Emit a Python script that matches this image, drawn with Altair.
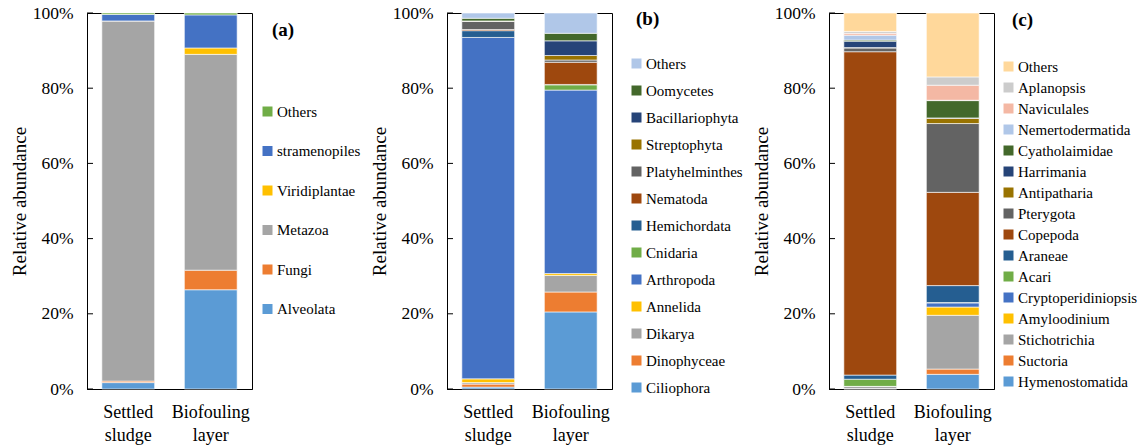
import altair as alt
import pandas as pd

groups = ["Settled sludge", "Biofouling layer"]
y_ticks = [0, 20, 40, 60, 80, 100]

# Panel (a) – bottom to top
taxa_a = ["Alveolata", "Fungi", "Metazoa", "Viridiplantae", "stramenopiles", "Others"]
settled_a = [1.7, 0.4, 95.8, 0.0, 1.7, 0.4]
biofoul_a = [26.4, 5.2, 57.4, 1.7, 8.8, 0.5]
colors_a = ["#5B9BD5", "#ED7D31", "#A5A5A5", "#FFC000", "#4472C4", "#70AD47"]

# Panel (b)
taxa_b = ["Ciliophora", "Dinophyceae", "Dikarya", "Annelida", "Arthropoda", "Cnidaria",
          "Hemichordata", "Nematoda", "Platyhelminthes", "Streptophyta",
          "Bacillariophyta", "Oomycetes", "Others"]
settled_b = [0.5, 0.8, 0.4, 1.0, 90.8, 0.0, 1.8, 0.3, 2.2, 0.1, 0.0, 0.7, 1.4]
biofoul_b = [20.5, 5.3, 4.4, 0.5, 48.8, 1.4, 0.1, 5.9, 0.6, 1.2, 3.9, 2.0, 5.4]
colors_b = ["#5B9BD5", "#ED7D31", "#A5A5A5", "#FFC000", "#4472C4", "#70AD47",
            "#255E91", "#9E480E", "#636363", "#997300", "#264478", "#43682B", "#B0C7E8"]

# Panel (c)
taxa_c = ["Hymenostomatida", "Suctoria", "Stichotrichia", "Amyloodinium",
          "Cryptoperidiniopsis", "Acari", "Araneae", "Copepoda", "Pterygota",
          "Antipatharia", "Harrimania", "Cyatholaimidae", "Nemertodermatida",
          "Naviculales", "Aplanopsis", "Others"]
settled_c = [0.1, 0.0, 0.6, 0.0, 0.0, 1.9, 1.1, 86.0, 1.0, 0.1, 1.7, 0.3, 1.3, 0.5, 0.5, 4.9]
biofoul_c = [3.9, 1.4, 14.3, 2.2, 1.1, 0.1, 4.5, 24.8, 18.3, 1.4, 0.1, 4.6, 0.1, 4.0, 2.2, 17.0]
colors_c = ["#5B9BD5", "#ED7D31", "#A5A5A5", "#FFC000", "#4472C4", "#70AD47",
            "#255E91", "#9E480E", "#636363", "#997300", "#264478", "#43682B",
            "#B0C7E8", "#F4B8A4", "#CCCCCC", "#FFD89B"]

FONT = "Times New Roman, Liberation Serif, serif"


def y_axis():
    return alt.Axis(values=y_ticks, ticks=False, labelExpr="datum.value + '%'",
                    labelFont=FONT, labelFontSize=17.5, labelColor="black",
                    labelPadding=14, titleFont=FONT, titleFontSize=19,
                    titleFontWeight="normal", titleColor="black", titlePadding=3,
                    grid=False, domainColor="black")


def panel(label, taxa, settled, biofoul, colors, legend_x, legend_y, row_pad, lab_x, lab_y):
    rows = []
    for i, t in enumerate(taxa):
        rows.append({"group": groups[0], "taxon": t, "pct": settled[i], "idx": i})
        rows.append({"group": groups[1], "taxon": t, "pct": biofoul[i], "idx": i})
    df = pd.DataFrame(rows)
    yscale = alt.Scale(domain=[0, 100], nice=False)
    bars = alt.Chart(df).mark_bar(stroke="white", strokeWidth=0.6).encode(
        x=alt.X("group:N", sort=groups, title=None,
                scale=alt.Scale(paddingInner=0.36, paddingOuter=0.18),
                axis=alt.Axis(ticks=False, labelAngle=0, labelFont=FONT, labelFontSize=18,
                              labelColor="black", labelExpr="split(datum.label, ' ')",
                              labelLineHeight=23, labelPadding=14, domainColor="black")),
        y=alt.Y("pct:Q", stack="zero", scale=yscale, title="Relative abundance",
                axis=y_axis()),
        color=alt.Color("taxon:N",
                        scale=alt.Scale(domain=taxa[::-1], range=colors[::-1]),
                        legend=alt.Legend(title=None, orient="none", legendX=legend_x,
                                          legendY=legend_y, symbolType="square",
                                          symbolSize=100, symbolStrokeWidth=0,
                                          labelFont=FONT, labelFontSize=15,
                                          labelColor="black", rowPadding=row_pad,
                                          labelOffset=2, padding=0, labelLimit=300)),
        order=alt.Order("idx:Q", sort="ascending"),
    )
    tdf = pd.DataFrame({"pct": y_ticks})
    tick_rules = alt.Chart(tdf).mark_rule(color="black", strokeWidth=1).encode(
        y=alt.Y("pct:Q", scale=yscale, title="Relative abundance", axis=y_axis()),
        x=alt.value(0), x2=alt.value(6),
    )
    ldf = pd.DataFrame({"lab": [label]})
    lab = alt.Chart(ldf).mark_text(font=FONT, fontSize=19, fontWeight="bold",
                                   align="left", baseline="middle", color="black").encode(
        text="lab:N", x=alt.value(lab_x), y=alt.value(lab_y))
    return alt.layer(bars, tick_rules, lab).properties(width=165, height=376)


pa = panel("(a)", taxa_a, settled_a, biofoul_a, colors_a, 173, 91, 23.5, 185, 17)
pb = panel("(b)", taxa_b, settled_b, biofoul_b, colors_b, 182, 43, 11, 189, 6)
pc = panel("(c)", taxa_c, settled_c, biofoul_c, colors_c, 172, 46, 5.0, 183, 7)

chart = alt.hconcat(pa, pb, pc, spacing=7).resolve_scale(color="independent").configure(
    padding={"left": 9, "top": 3, "right": 0, "bottom": 0},
    background="white",
    font=FONT,
).configure_view(stroke="black", strokeWidth=1).configure_legend(
    labelFont=FONT, labelFontSize=15, labelColor="black"
)

chart.save("out.html", embed_options={"renderer": "svg", "actions": False})
